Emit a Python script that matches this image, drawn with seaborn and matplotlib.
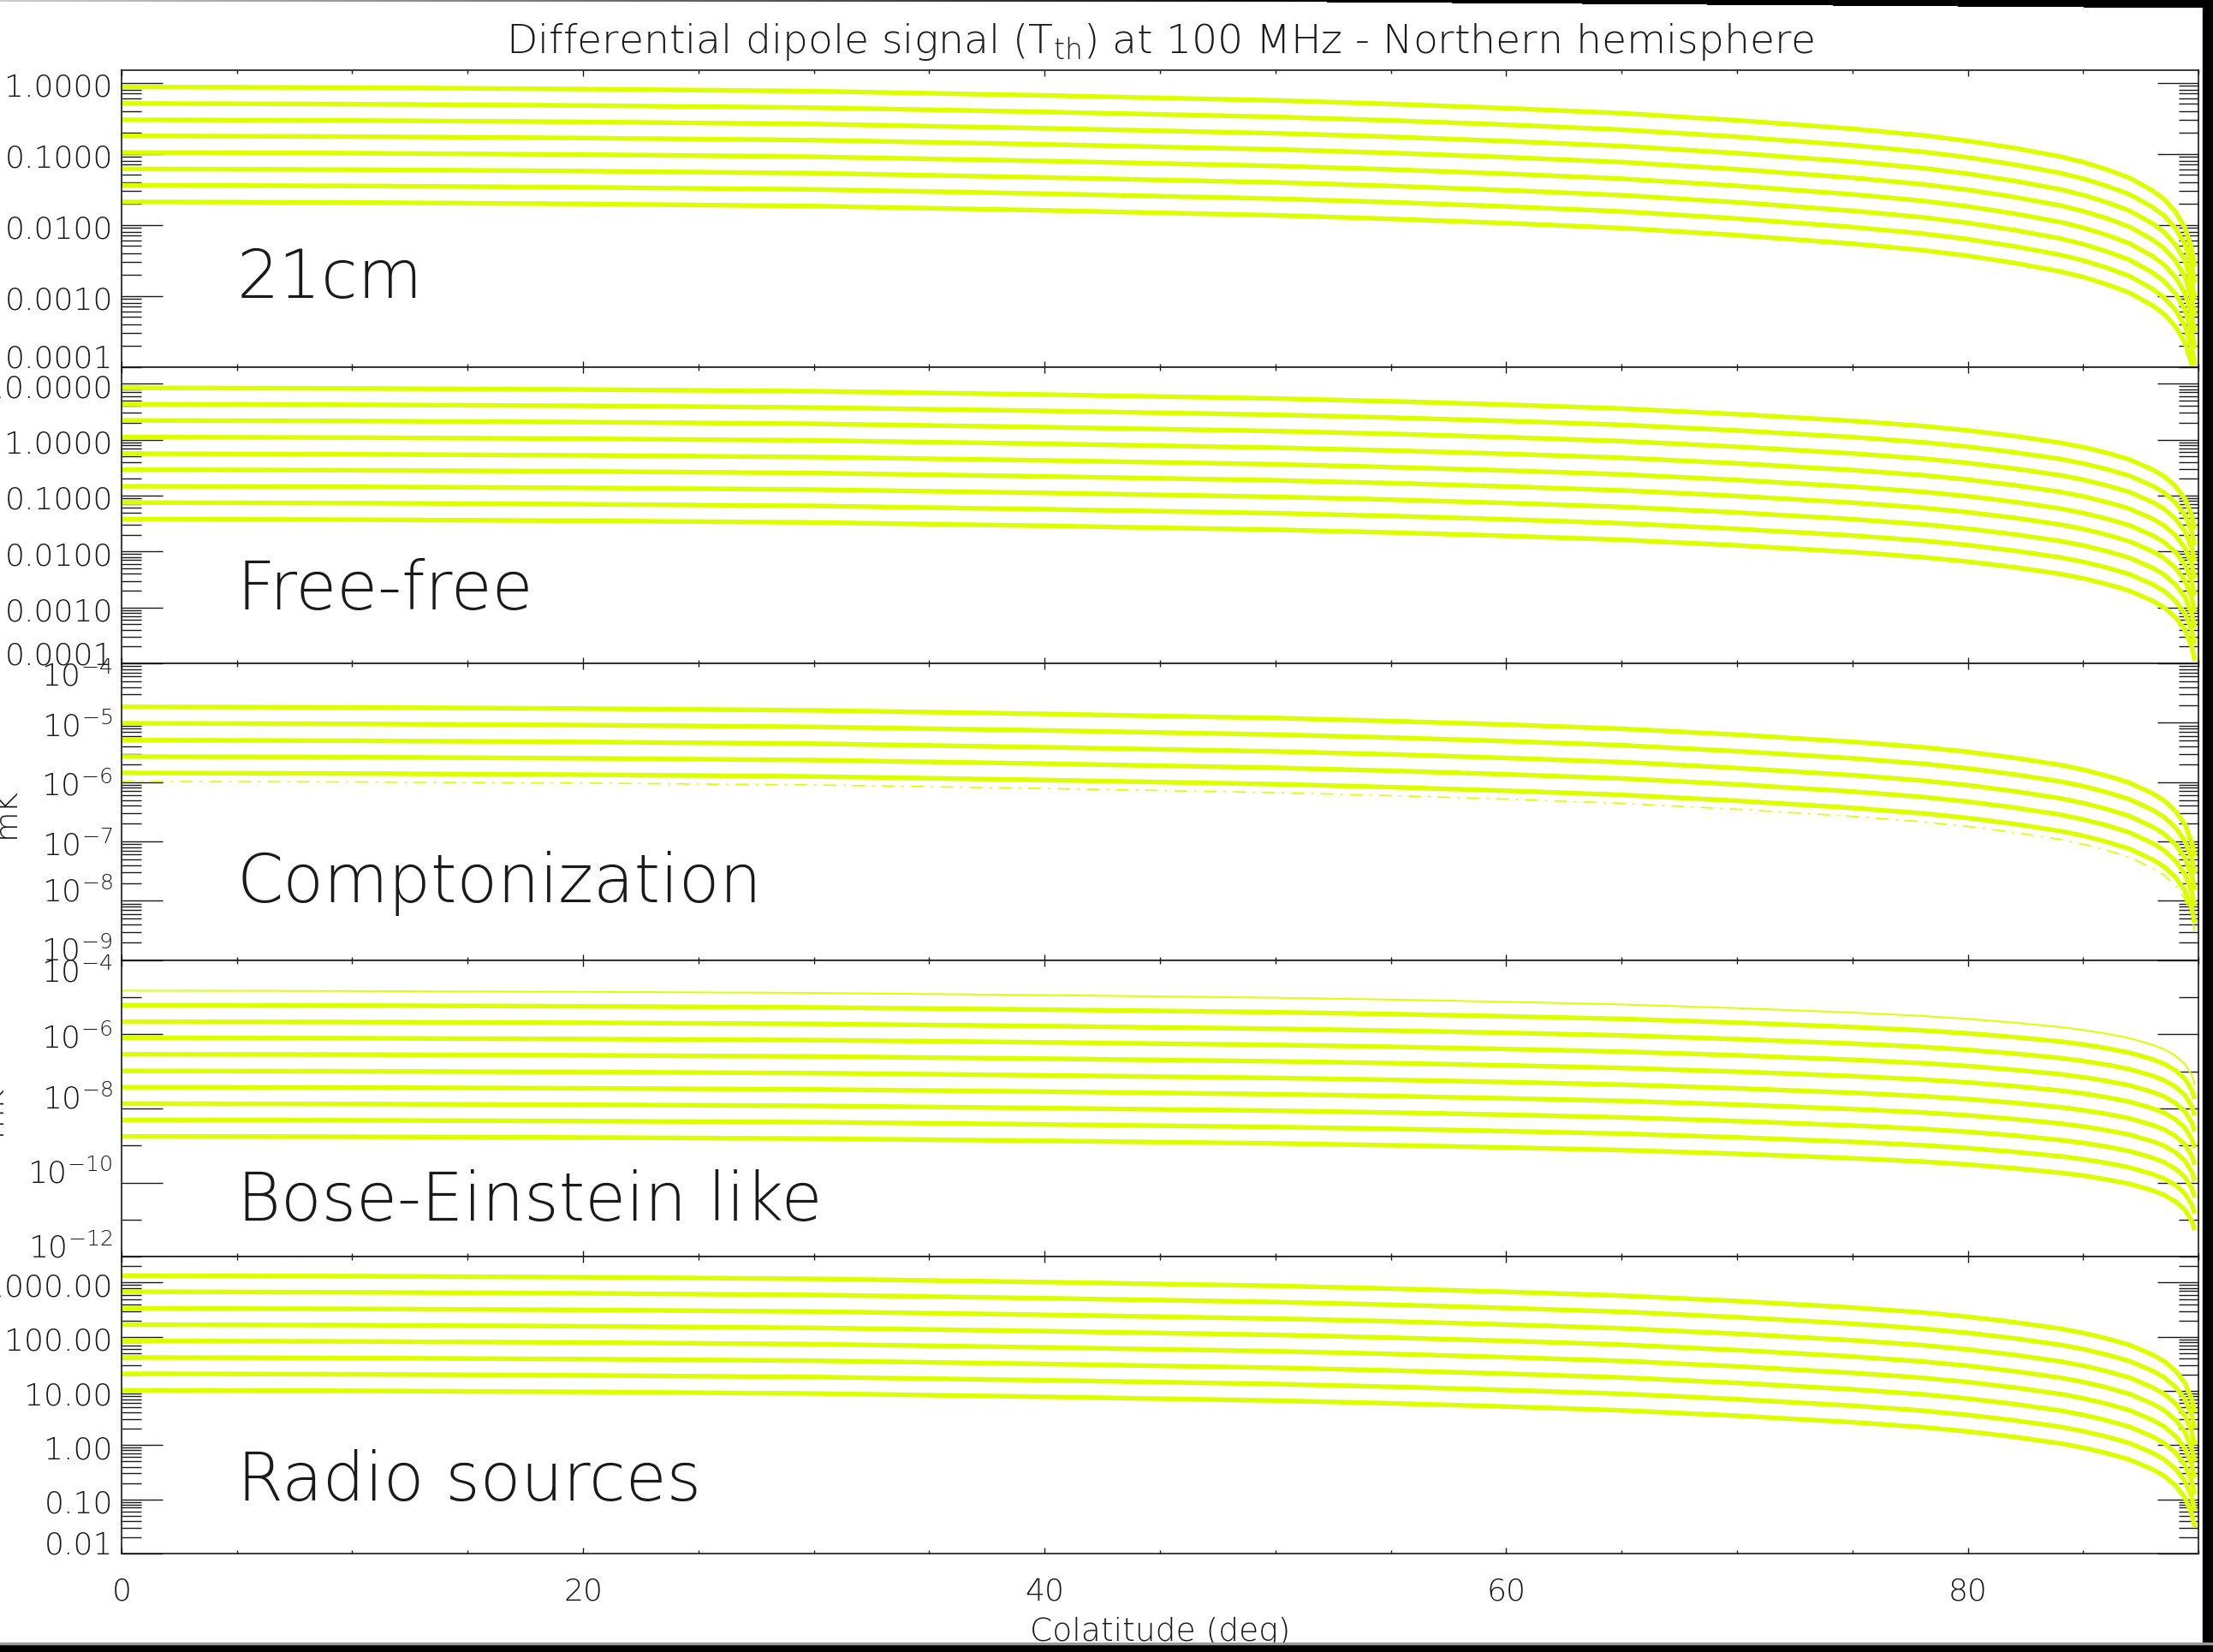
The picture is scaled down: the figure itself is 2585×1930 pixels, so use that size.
import numpy as np
import pandas as pd
import matplotlib
matplotlib.use('Agg')
import matplotlib.pyplot as plt
import matplotlib.transforms as mtransforms
from matplotlib.patches import Rectangle
from matplotlib.ticker import FixedLocator, LogLocator, NullFormatter
import seaborn as sns

# colatitude grid (deg) and the common fall-off of the curves,
# read off the plot in decades below the value at colatitude 0
colat = [0, 10, 20, 30, 40, 50, 55, 60, 65, 70, 75, 78, 80, 82, 84, 85,
         86, 87, 88, 88.5, 89, 89.4, 89.7, 89.83]
drop_dex = [0, 0.01, 0.03, 0.06, 0.12, 0.19, 0.24, 0.30, 0.37, 0.47, 0.59,
            0.68, 0.76, 0.86, 0.98, 1.06, 1.16, 1.28, 1.46, 1.58, 1.76,
            1.98, 2.28, 2.53]

# curve values at colatitude 0 (mK)
amp_21cm = [0.87, 0.51, 0.30, 0.178, 0.104, 0.061, 0.036, 0.021]
amp_freefree = [8.4, 4.3, 2.2, 1.11, 0.56, 0.29, 0.147, 0.075, 0.038]
amp_compton = [1.86e-5, 9.8e-6, 5.1e-6, 2.7e-6, 1.43e-6]
amp_compton_dashdot = [1.03e-6]
amp_bose_thin = [1.5e-5]
amp_bose = [6.1e-6, 2.19e-6, 8.0e-7, 2.9e-7, 1.03e-7, 3.75e-8, 1.35e-8,
            4.9e-9, 1.77e-9]
amp_radio = [1350, 680, 336, 168, 84, 41.6, 20.8, 10.3]

panel_names = ['21cm', 'Free-free', 'Comptonization', 'Bose-Einstein like',
               'Radio sources']
ylims = [(1e-4, 1.5), (1e-4, 20), (1e-9, 1e-4), (1e-12, 1e-4), (1e-2, 3000)]
ytick_vals = [
    [1, 0.1, 0.01, 0.001, 0.0001],
    [10, 1, 0.1, 0.01, 0.001, 0.0001],
    [1e-4, 1e-5, 1e-6, 1e-7, 1e-8, 1e-9],
    [1e-4, 1e-6, 1e-8, 1e-10, 1e-12],
    [1000, 100, 10, 1, 0.1, 0.01],
]
ytick_labels = [
    ['1.0000', '0.1000', '0.0100', '0.0010', '0.0001'],
    ['10.0000', '1.0000', '0.1000', '0.0100', '0.0010', '0.0001'],
    [r'$10^{-4}$', r'$10^{-5}$', r'$10^{-6}$', r'$10^{-7}$', r'$10^{-8}$', r'$10^{-9}$'],
    [r'$10^{-4}$', r'$10^{-6}$', r'$10^{-8}$', r'$10^{-10}$', r'$10^{-12}$'],
    ['1000.00', '100.00', '10.00', '1.00', '0.10', '0.01'],
]
bose_minor = [1e-5, 1e-7, 1e-9, 1e-11]
xtick_vals = [0, 20, 40, 60, 80]
xminor_vals = list(range(0, 91, 5))

title = r'Differential dipole signal (T$_{\rm th}$) at 100 MHz - Northern hemisphere'
xlabel = 'Colatitude (deg)'
ylabel = 'mK'

# layout in pixels of the 2585x1931 picture
W, H = 2585, 1931
AX_L, AX_R = 141.8, 2568.3
AX_TOP, AX_H = 82.9, 346.6
name_y = [0.235, 0.185, 0.198, 0.125, 0.181]
YELLOW = '#dcff00'
INK = '#1a1a1a'
TICK_FS = 26
FAMILY = ['DejaVu Sans']
WEIGHT = 200


def make_frame(amps):
    rows = []
    for k, a in enumerate(amps):
        for c, d in zip(colat, drop_dex):
            rows.append({'curve': k, 'colat': c, 'value': a * 10 ** (-d)})
    return pd.DataFrame(rows)


sns.set_theme(style='white', rc={'axes.edgecolor': INK, 'axes.linewidth': 1.2,
                                 'xtick.color': INK, 'ytick.color': INK})
plt.rcParams['font.family'] = FAMILY
plt.rcParams['font.weight'] = WEIGHT
plt.rcParams['mathtext.fontset'] = 'custom'
plt.rcParams['mathtext.rm'] = 'DejaVu Sans:weight=200'
plt.rcParams['mathtext.default'] = 'rm'
plt.rcParams['text.color'] = INK

fig = plt.figure(figsize=(W / 100, H / 100), dpi=100)

thick_sets = [amp_21cm, amp_freefree, amp_compton, amp_bose, amp_radio]
axes = []
for i in range(5):
    top = AX_TOP + i * AX_H
    ax = fig.add_axes([AX_L / W, 1 - (top + AX_H) / H, (AX_R - AX_L) / W, AX_H / H])
    axes.append(ax)

    sns.lineplot(data=make_frame(thick_sets[i]), x='colat', y='value', units='curve',
                 estimator=None, color=YELLOW, lw=3.9, solid_capstyle='butt',
                 legend=False, ax=ax)
    if i == 2:
        sns.lineplot(data=make_frame(amp_compton_dashdot), x='colat', y='value',
                     units='curve', estimator=None, color=YELLOW, lw=1.2,
                     linestyle=(0, (9, 5, 1.5, 5)), legend=False, ax=ax)
    if i == 3:
        sns.lineplot(data=make_frame(amp_bose_thin), x='colat', y='value',
                     units='curve', estimator=None, color=YELLOW, lw=1.4,
                     legend=False, ax=ax)

    ax.set_yscale('log')
    ax.set_xlim(0, 90)
    ax.set_ylim(*ylims[i])
    ax.set_xlabel('')
    ax.set_ylabel('')

    ax.xaxis.set_major_locator(FixedLocator(xtick_vals))
    ax.xaxis.set_minor_locator(FixedLocator(xminor_vals))
    ax.yaxis.set_major_locator(FixedLocator(ytick_vals[i]))
    if i == 3:
        ax.yaxis.set_minor_locator(FixedLocator(bose_minor))
    else:
        ax.yaxis.set_minor_locator(LogLocator(base=10, subs=np.arange(2, 10), numticks=100))
    ax.yaxis.set_major_formatter(NullFormatter())
    ax.yaxis.set_minor_formatter(NullFormatter())
    ax.xaxis.set_major_formatter(NullFormatter())

    ax.tick_params(axis='x', which='both', direction='in', top=True, bottom=True,
                   width=1.0, color=INK)
    ax.tick_params(axis='x', which='major', length=5.2)
    ax.tick_params(axis='x', which='minor', length=2.9)
    ax.tick_params(axis='y', which='both', direction='in', left=True, right=True,
                   width=1.0, color=INK)
    ax.tick_params(axis='y', which='major', length=34.5)
    ax.tick_params(axis='y', which='minor', length=16.5)

    # y tick labels, placed the way the original plotting package put them
    lo, hi = ylims[i]
    base = ax.get_yaxis_transform()
    for v, s in zip(ytick_vals[i], ytick_labels[i]):
        if np.isclose(v, lo):
            dy = 0
        elif np.isclose(v, hi):
            dy = 25
        else:
            dy = 15
        off = mtransforms.ScaledTranslation(0, -dy / 100, fig.dpi_scale_trans)
        ax.text(-10 / (AX_R - AX_L), v, s, transform=base + off, ha='right',
                va='baseline', fontsize=TICK_FS)

    ax.text(5.0, name_y[i], panel_names[i], transform=ax.get_xaxis_transform(),
            ha='left', va='baseline', fontsize=56)

# x tick labels under the last panel
for v in xtick_vals:
    axes[-1].text(v, -(1870 - 1815.9) / AX_H, str(v),
                  transform=axes[-1].get_xaxis_transform(),
                  ha='center', va='baseline', fontsize=TICK_FS)

fig.text(1355 / W, 1 - 62 / H, title, ha='center', va='baseline', fontsize=34)
fig.text(1355 / W, 1 - 1917 / H, xlabel, ha='center', va='baseline', fontsize=27)

# axis titles that stick out past the left edge of the picture
for i, xr in [(2, 24), (3, 8)]:
    yc = AX_TOP + (i + 0.5) * AX_H
    fig.text(xr / W, 1 - yc / H, ylabel, rotation=90, ha='right', va='center',
             fontsize=TICK_FS)

# window frame / shadow around the screenshot
fig.add_artist(Rectangle((2573 / W, 0), 12 / W, 1, transform=fig.transFigure,
                         color='black', zorder=10))
fig.add_artist(Rectangle((0, 0), 1, 9 / H, transform=fig.transFigure,
                         color='black', zorder=10))
fig.add_artist(Rectangle((0, 9 / H), 1, 2 / H, transform=fig.transFigure,
                         color='#9a9a9a', zorder=10))
rows, cols = 12, 512
t = np.linspace(0, 1, cols)
shade = 1 - np.clip(0.2 + t / 0.6 * 0.8, 0, 1)          # grey level, 1 = white
thick = 3 + 7 * np.clip((t - 0.6) / 0.4, 0, 1)           # border height in px
img = np.ones((rows, cols))
for r in range(rows):
    img[r] = np.where(r < thick, shade, 1.0)
bar = fig.add_axes([0, 1 - rows / H, 1, rows / H])
bar.imshow(img, cmap='gray', vmin=0, vmax=1, aspect='auto', interpolation='nearest')
bar.axis('off')

fig.savefig('out.png', dpi=100, facecolor='white')
